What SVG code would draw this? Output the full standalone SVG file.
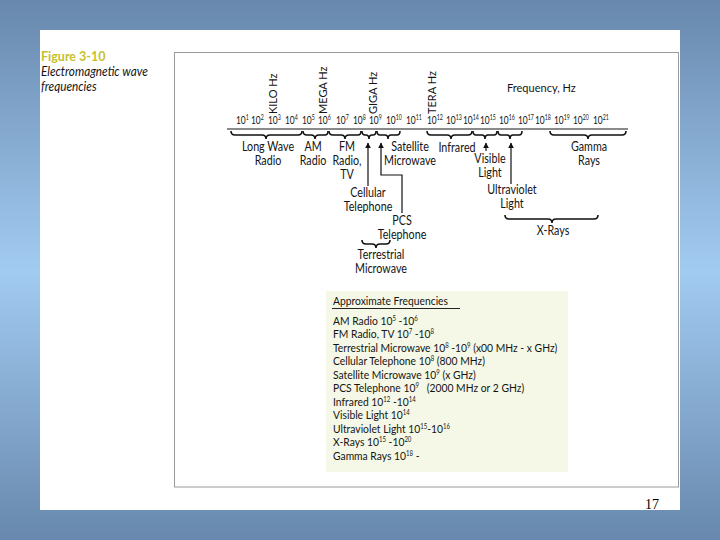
<svg xmlns="http://www.w3.org/2000/svg" width="720" height="540" viewBox="0 0 720 540">
<defs>
<linearGradient id="bg" x1="0" y1="0" x2="0" y2="1">
<stop offset="0" stop-color="#6888ad"/>
<stop offset="0.5" stop-color="#a2cbf2"/>
<stop offset="1" stop-color="#6888ad"/>
</linearGradient>
<marker id="ah" viewBox="0 0 10 10" refX="9" refY="5" markerWidth="6" markerHeight="7" orient="auto" markerUnits="userSpaceOnUse">
<path d="M0,0 L10,5 L0,10 Z" fill="#111"/>
</marker>
</defs>
<style>
text{font-family:"Lato","Noto Sans","Liberation Sans",sans-serif;fill:#141414}
.lbl{font-size:12.5px;text-anchor:middle}
.ax{font-size:12px}
.s{font-size:7.5px}
.vt{font-size:11px}
.tb{font-size:12px}
.ts{font-size:7px}
.br{fill:none;stroke:#111;stroke-width:1.6}
.ln{fill:none;stroke:#111;stroke-width:1.2}
</style>
<rect width="720" height="540" fill="url(#bg)"/>
<rect x="40" y="30" width="640" height="480" fill="#fff"/>
<rect x="174.5" y="52.5" width="504" height="434.5" fill="#fff" stroke="#9a9a9a" stroke-width="1"/>
<g id="caption">
<text x="41" y="61" style="font-size:12.5px;font-weight:bold;fill:#c6c12e">Figure 3-10</text>
<text transform="translate(41,76) scale(0.94,1)" style="font-size:12.5px;font-style:italic">Electromagnetic wave</text>
<text transform="translate(41,91) scale(0.94,1)" style="font-size:12.5px;font-style:italic">frequencies</text>
</g>
<g id="units">
<text class="vt" transform="translate(277,114) rotate(-90)">KILO Hz</text>
<text class="vt" transform="translate(327,114) rotate(-90)">MEGA Hz</text>
<text class="vt" transform="translate(377,114) rotate(-90)">GIGA Hz</text>
<text class="vt" transform="translate(436,114) rotate(-90)">TERA Hz</text>
<text transform="translate(507,92) scale(0.92,1)" style="font-size:12px">Frequency, Hz</text>
</g>
<g id="axis">
<line x1="227" y1="129" x2="628" y2="129" stroke="#8a8a8a" stroke-width="2"/>
<text class="ax" transform="translate(236,124) scale(0.7,1)">10<tspan class="s" dy="-4.5">1</tspan></text>
<text class="ax" transform="translate(251,124) scale(0.7,1)">10<tspan class="s" dy="-4.5">2</tspan></text>
<text class="ax" transform="translate(268,124) scale(0.7,1)">10<tspan class="s" dy="-4.5">3</tspan></text>
<text class="ax" transform="translate(285,124) scale(0.7,1)">10<tspan class="s" dy="-4.5">4</tspan></text>
<text class="ax" transform="translate(302,124) scale(0.7,1)">10<tspan class="s" dy="-4.5">5</tspan></text>
<text class="ax" transform="translate(318,124) scale(0.7,1)">10<tspan class="s" dy="-4.5">6</tspan></text>
<text class="ax" transform="translate(336,124) scale(0.7,1)">10<tspan class="s" dy="-4.5">7</tspan></text>
<text class="ax" transform="translate(353,124) scale(0.7,1)">10<tspan class="s" dy="-4.5">8</tspan></text>
<text class="ax" transform="translate(369,124) scale(0.7,1)">10<tspan class="s" dy="-4.5">9</tspan></text>
<text class="ax" transform="translate(386,124) scale(0.7,1)">10<tspan class="s" dy="-4.5">10</tspan></text>
<text class="ax" transform="translate(406,124) scale(0.7,1)">10<tspan class="s" dy="-4.5">11</tspan></text>
<text class="ax" transform="translate(427,124) scale(0.7,1)">10<tspan class="s" dy="-4.5">12</tspan></text>
<text class="ax" transform="translate(446,124) scale(0.7,1)">10<tspan class="s" dy="-4.5">13</tspan></text>
<text class="ax" transform="translate(463,124) scale(0.7,1)">10<tspan class="s" dy="-4.5">14</tspan></text>
<text class="ax" transform="translate(480,124) scale(0.7,1)">10<tspan class="s" dy="-4.5">15</tspan></text>
<text class="ax" transform="translate(499,124) scale(0.7,1)">10<tspan class="s" dy="-4.5">16</tspan></text>
<text class="ax" transform="translate(518,124) scale(0.7,1)">10<tspan class="s" dy="-4.5">17</tspan></text>
<text class="ax" transform="translate(535,124) scale(0.7,1)">10<tspan class="s" dy="-4.5">18</tspan></text>
<text class="ax" transform="translate(554,124) scale(0.7,1)">10<tspan class="s" dy="-4.5">19</tspan></text>
<text class="ax" transform="translate(573,124) scale(0.7,1)">10<tspan class="s" dy="-4.5">20</tspan></text>
<text class="ax" transform="translate(593,124) scale(0.7,1)">10<tspan class="s" dy="-4.5">21</tspan></text>
</g>
<g id="connectors">
<path class="br" d="M231,131 Q231,135 235,135 L262,135 Q266,135 266,139 Q266,135 270,135 L298,135 Q302,135 302,131"/>
<path class="br" d="M303,131 Q303,135 307,135 L311,135 Q315,135 315,139 Q315,135 319,135 L325,135 Q328,135 328,131"/>
<path class="br" d="M329,131 Q329,135 333,135 L341,135 Q345,135 345,139 Q345,135 349,135 L358,135 Q361,135 361,131"/>
<path class="br" d="M362,131 Q362,135 365,135 L366,135 Q369,135 369,139 Q369,135 372,135 L373,135 Q376,135 376,131"/>
<path class="br" d="M377,131 Q377,135 380,135 L385,135 Q388,135 388,139 Q388,135 391,135 L397,135 Q400,135 400,131"/>
<path class="br" d="M427,131 Q427,135 431,135 L447,135 Q451,135 451,139 Q451,135 455,135 L468,135 Q472,135 472,131"/>
<path class="br" d="M473,131 Q473,135 476,135 L482,135 Q485,135 485,139 Q485,135 488,135 L494,135 Q497,135 497,131"/>
<path class="br" d="M498,131 Q498,135 501,135 L507,135 Q510,135 510,139 Q510,135 513,135 L519,135 Q522,135 522,131"/>
<path class="br" d="M550,131 Q550,135 554,135 L584,135 Q588,135 588,139 Q588,135 592,135 L622,135 Q626,135 626,131"/>
<path class="br" d="M505,215 Q505,219 509,219 L548,219 Q552,219 552,223 Q552,219 556,219 L594,219 Q598,219 598,215"/>
<path class="br" d="M362,240 Q362,244 366,244 L372,244 Q376,244 376,248 Q376,244 380,244 L386,244 Q390,244 390,240"/>
<line class="ln" x1="368" y1="186" x2="368" y2="143" marker-end="url(#ah)"/>
<path class="ln" d="M402,213 V175 H381 V143" marker-end="url(#ah)"/>
<line class="ln" x1="486" y1="151" x2="486" y2="143" marker-end="url(#ah)"/>
<line class="ln" x1="511" y1="184" x2="511" y2="143" marker-end="url(#ah)"/>
</g>
<g id="long-wave"><text class="lbl" transform="translate(268,151) scale(0.86,1)">Long Wave</text><text class="lbl" transform="translate(268,165) scale(0.86,1)">Radio</text></g>
<g id="am"><text class="lbl" transform="translate(313,151) scale(0.86,1)">AM</text><text class="lbl" transform="translate(313,165) scale(0.86,1)">Radio</text></g>
<g id="fm"><text class="lbl" transform="translate(347,151) scale(0.86,1)">FM</text><text class="lbl" transform="translate(347,165) scale(0.86,1)">Radio,</text><text class="lbl" transform="translate(347,179) scale(0.86,1)">TV</text></g>
<g id="satellite"><text class="lbl" transform="translate(410,151) scale(0.86,1)">Satellite</text><text class="lbl" transform="translate(410,165) scale(0.86,1)">Microwave</text></g>
<g id="cellular"><text class="lbl" transform="translate(368,197) scale(0.86,1)">Cellular</text><text class="lbl" transform="translate(368,211) scale(0.86,1)">Telephone</text></g>
<g id="pcs"><text class="lbl" transform="translate(402,225) scale(0.86,1)">PCS</text><text class="lbl" transform="translate(402,239) scale(0.86,1)">Telephone</text></g>
<g id="terrestrial"><text class="lbl" transform="translate(381,259) scale(0.86,1)">Terrestrial</text><text class="lbl" transform="translate(381,273) scale(0.86,1)">Microwave</text></g>
<g id="infrared"><text class="lbl" transform="translate(457,152) scale(0.86,1)">Infrared</text></g>
<g id="visible"><text class="lbl" transform="translate(490,163) scale(0.86,1)">Visible</text><text class="lbl" transform="translate(490,177) scale(0.86,1)">Light</text></g>
<g id="ultraviolet"><text class="lbl" transform="translate(512,194) scale(0.86,1)">Ultraviolet</text><text class="lbl" transform="translate(512,208) scale(0.86,1)">Light</text></g>
<g id="gamma"><text class="lbl" transform="translate(589,151) scale(0.86,1)">Gamma</text><text class="lbl" transform="translate(589,165) scale(0.86,1)">Rays</text></g>
<g id="xrays"><text class="lbl" transform="translate(553,235) scale(0.86,1)">X-Rays</text></g>
<g id="table">
<rect x="326" y="291" width="242" height="181" fill="#f5f8e6"/>
<g transform="matrix(0.86,0,0,1,46.62,0)">
<text class="tb" x="333" y="305">Approximate Frequencies</text>
<text class="tb" x="333" y="325">AM Radio 10<tspan class="ts" dy="-4">5</tspan><tspan dy="4"> -10</tspan><tspan class="ts" dy="-4">6</tspan></text>
<text class="tb" x="333" y="338">FM Radio, TV 10<tspan class="ts" dy="-4">7</tspan><tspan dy="4"> -10</tspan><tspan class="ts" dy="-4">8</tspan></text>
<text class="tb" x="333" y="352">Terrestrial Microwave 10<tspan class="ts" dy="-4">8</tspan><tspan dy="4"> -10</tspan><tspan class="ts" dy="-4">9</tspan><tspan dy="4"> (x00 MHz - x GHz)</tspan></text>
<text class="tb" x="333" y="365">Cellular Telephone 10<tspan class="ts" dy="-4">8</tspan><tspan dy="4"> (800 MHz)</tspan></text>
<text class="tb" x="333" y="379">Satellite Microwave 10<tspan class="ts" dy="-4">9</tspan><tspan dy="4"> (x GHz)</tspan></text>
<text class="tb" x="333" y="392" xml:space="preserve">PCS Telephone 10<tspan class="ts" dy="-4">9</tspan><tspan dy="4">   (2000 MHz or 2 GHz)</tspan></text>
<text class="tb" x="333" y="406">Infrared 10<tspan class="ts" dy="-4">12</tspan><tspan dy="4"> -10</tspan><tspan class="ts" dy="-4">14</tspan></text>
<text class="tb" x="333" y="419">Visible Light 10<tspan class="ts" dy="-4">14</tspan></text>
<text class="tb" x="333" y="433">Ultraviolet Light 10<tspan class="ts" dy="-4">15</tspan><tspan dy="4">-10</tspan><tspan class="ts" dy="-4">16</tspan></text>
<text class="tb" x="333" y="446">X-Rays 10<tspan class="ts" dy="-4">15</tspan><tspan dy="4"> -10</tspan><tspan class="ts" dy="-4">20</tspan></text>
<text class="tb" x="333" y="460">Gamma Rays 10<tspan class="ts" dy="-4">18</tspan><tspan dy="4"> -</tspan></text>
</g>
<line x1="332" y1="308.5" x2="460" y2="308.5" stroke="#222" stroke-width="1"/>
</g>
<text x="652" y="509" style="font-family:'Liberation Serif',serif;font-size:14px;text-anchor:middle;fill:#000">17</text>
</svg>
